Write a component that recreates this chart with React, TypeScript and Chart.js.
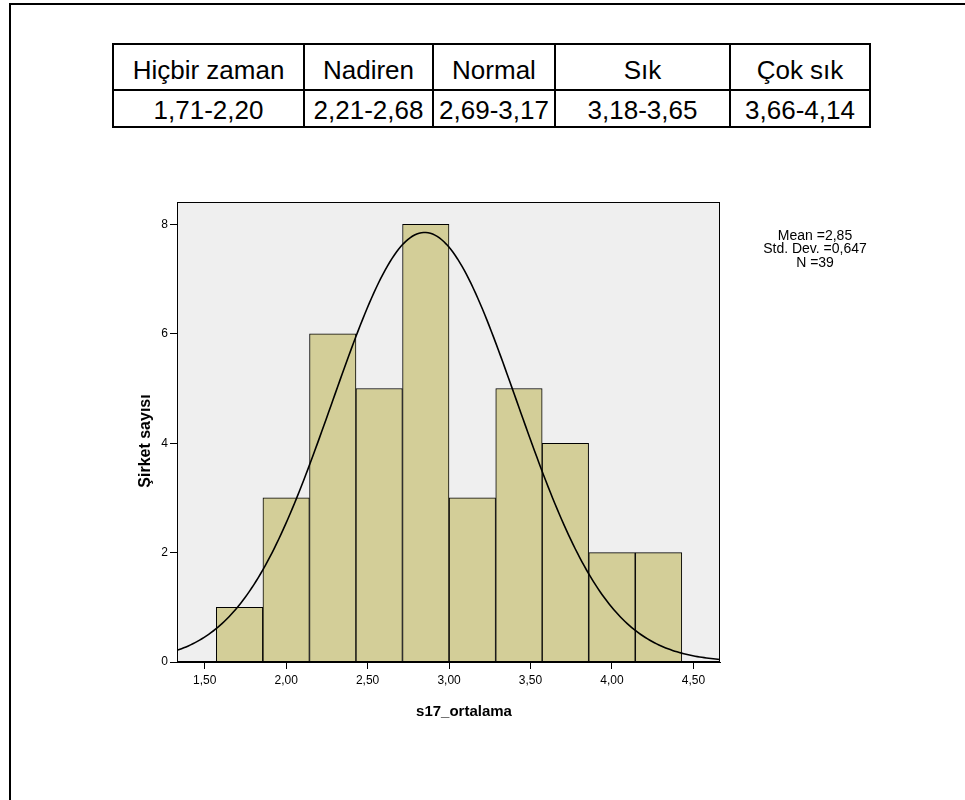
import React, { useEffect, useRef } from "react";
import { Chart, registerables } from "chart.js";

Chart.register(...registerables);

// ---- Table data ----
const tableHeaders = ["Hiçbir zaman", "Nadiren", "Normal", "Sık", "Çok sık"];
const tableRanges = ["1,71-2,20", "2,21-2,68", "2,69-3,17", "3,18-3,65", "3,66-4,14"];

// ---- Histogram data ----
const binCenters = [1.714, 2.0, 2.286, 2.571, 2.857, 3.143, 3.429, 3.714, 4.0, 4.286];
const binCounts = [1, 3, 6, 5, 8, 3, 5, 4, 2, 2];
const binWidth = 0.2857;

// ---- Axis ticks & titles ----
const xTickValues = [1.5, 2.0, 2.5, 3.0, 3.5, 4.0, 4.5];
const xTickLabels = ["1,50", "2,00", "2,50", "3,00", "3,50", "4,00", "4,50"];
const yTickValues = [0, 2, 4, 6, 8];
const yTickLabels = ["0", "2", "4", "6", "8"];
const xTitle = "s17_ortalama";
const yTitle = "Şirket sayısı";

// ---- Normal curve parameters & stats box ----
const curveMean = 2.85;
const curveSd = 0.566;
const sampleN = 39;
const statsLines = ["Mean =2,85", "Std. Dev. =0,647", "N =39"];

const xMin = 1.33;
const xMax = 4.663;
const yMax = 8.41;

const FONT = "'Liberation Sans', Arial, Helvetica, sans-serif";

function normalCurvePoints() {
  const pts: { x: number; y: number }[] = [];
  const steps = 240;
  for (let i = 0; i <= steps; i++) {
    const x = xMin + ((xMax - xMin) * i) / steps;
    const z = (x - curveMean) / curveSd;
    const y = (sampleN * binWidth * Math.exp(-0.5 * z * z)) / (curveSd * Math.sqrt(2 * Math.PI));
    pts.push({ x, y });
  }
  return pts;
}

const plotBgPlugin = {
  id: "plotBg",
  beforeDraw(chart: any) {
    const { ctx, chartArea } = chart;
    ctx.save();
    ctx.fillStyle = "#efefef";
    ctx.fillRect(chartArea.left, chartArea.top, chartArea.right - chartArea.left, chartArea.bottom - chartArea.top);
    ctx.restore();
  },
  afterDraw(chart: any) {
    const { ctx, chartArea } = chart;
    ctx.save();
    ctx.strokeStyle = "#000";
    ctx.lineWidth = 1;
    ctx.strokeRect(
      Math.round(chartArea.left) + 0.5,
      Math.round(chartArea.top) + 0.5,
      Math.round(chartArea.right - chartArea.left) - 1,
      Math.round(chartArea.bottom - chartArea.top) - 1
    );
    ctx.fillStyle = "#000";
    ctx.textAlign = "center";
    ctx.textBaseline = "middle";
    ctx.font = `14px ${FONT}`;
    statsLines.forEach((t, i) => {
      ctx.fillText(t, 815, 236 + i * 13.6);
    });
    // axis titles
    ctx.font = `bold 15px ${FONT}`;
    ctx.fillText(xTitle, 464, 712);
    ctx.save();
    ctx.translate(146, 441);
    ctx.rotate(-Math.PI / 2);
    ctx.font = `bold 16px ${FONT}`;
    ctx.fillText(yTitle, 0, 0);
    ctx.restore();
    ctx.restore();
  },
};

function HistogramChart() {
  const ref = useRef<HTMLCanvasElement | null>(null);
  useEffect(() => {
    if (!ref.current) return;
    const chart = new Chart(ref.current, {
      type: "bar",
      data: {
        datasets: [
          {
            type: "line",
            data: normalCurvePoints(),
            borderColor: "#000",
            borderWidth: 1.6,
            pointRadius: 0,
            fill: false,
            tension: 0,
            order: 0,
          } as any,
          {
            type: "bar",
            data: binCenters.map((x, i) => ({ x, y: binCounts[i] })),
            backgroundColor: "#d3ce98",
            borderColor: "#000",
            borderWidth: 1,
            barPercentage: 1,
            categoryPercentage: 1,
            order: 1,
          } as any,
        ],
      },
      options: {
        animation: false,
        responsive: false,
        devicePixelRatio: 1,
        layout: { padding: { left: 117, right: 245, top: 202, bottom: 68 } },
        plugins: { legend: { display: false }, tooltip: { enabled: false } },
        scales: {
          x: {
            type: "linear",
            min: xMin,
            max: xMax,
            offset: false,
            afterBuildTicks: (s: any) => {
              s.ticks = xTickValues.map((v) => ({ value: v }));
            },
            afterFit: (s: any) => {
              s.height = 70;
            },
            ticks: {
              autoSkip: false,
              maxRotation: 0,
              padding: 4,
              color: "#000",
              font: { family: FONT, size: 12 },
              callback: (v: any) => xTickLabels[xTickValues.indexOf(Number(v))] ?? "",
            },
            grid: { drawOnChartArea: false, offset: false, tickLength: 7, tickColor: "#000", tickWidth: 1 },
            border: { display: true, color: "#000", width: 1 },
            title: { display: false },
          } as any,
          y: {
            min: 0,
            max: yMax,
            afterBuildTicks: (s: any) => {
              s.ticks = yTickValues.map((v) => ({ value: v }));
            },
            afterFit: (s: any) => {
              s.width = 60;
            },
            ticks: {
              padding: 2,
              color: "#000",
              font: { family: FONT, size: 12 },
              callback: (v: any) => yTickLabels[yTickValues.indexOf(Number(v))] ?? "",
            },
            grid: { drawOnChartArea: false, tickLength: 7, tickColor: "#000", tickWidth: 1 },
            border: { display: true, color: "#000", width: 1 },
            title: { display: false },
          } as any,
        },
      },
      plugins: [plotBgPlugin],
    });
    return () => chart.destroy();
  }, []);
  return (
    <canvas
      ref={ref}
      width={965}
      height={800}
      style={{ position: "absolute", left: 0, top: 0, width: 965, height: 800, display: "block" }}
    />
  );
}

const colWidths = [189, 127, 120, 173, 138];

function RangeTable() {
  const cell = (text: string, row: number, i: number) => (
    <div
      key={`${row}-${i}`}
      style={{
        background: "#fff",
        display: "flex",
        alignItems: "center",
        justifyContent: "center",
        fontFamily: FONT,
        fontSize: 26,
        color: "#000",
        whiteSpace: "nowrap",
        paddingTop: row === 0 ? 7 : 3,
        boxSizing: "border-box",
        overflow: "visible",
      }}
    >
      {text}
    </div>
  );
  return (
    <div
      style={{
        position: "absolute",
        left: 112,
        top: 43,
        display: "grid",
        gridTemplateColumns: colWidths.map((w) => `${w}px`).join(" "),
        gridTemplateRows: "44px 35px",
        gap: 2,
        padding: 2,
        background: "#000",
      }}
    >
      {tableHeaders.map((t, i) => cell(t, 0, i))}
      {tableRanges.map((t, i) => cell(t, 1, i))}
    </div>
  );
}

export default function App() {
  return (
    <div style={{ position: "fixed", left: 0, top: 0, width: 965, height: 800, background: "#fff", overflow: "hidden" }}>
      <div
        style={{
          position: "absolute",
          left: 9,
          top: 3,
          width: 970,
          height: 810,
          borderTop: "2px solid #000",
          borderLeft: "2px solid #000",
        }}
      />
      <RangeTable />
      <HistogramChart />
    </div>
  );
}
